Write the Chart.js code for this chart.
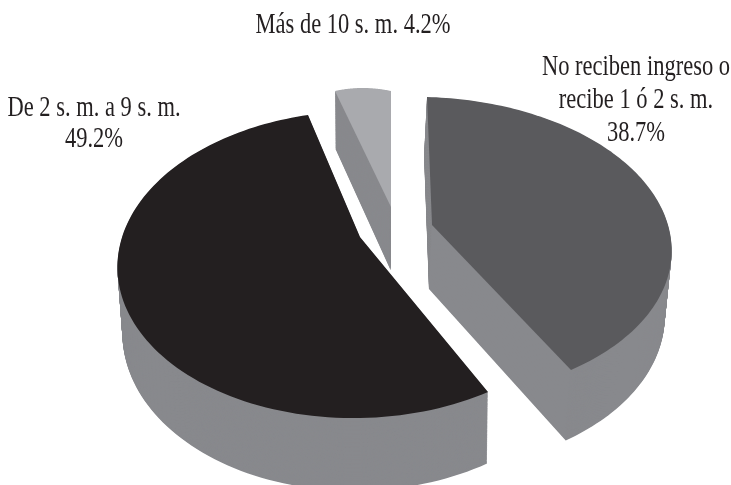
<!DOCTYPE html>
<html lang="es">
<head>
<meta charset="utf-8">
<title>Ingreso en salarios mínimos</title>
<style>
  html, body { margin: 0; padding: 0; background: #fff; }
  canvas { display: block; }
</style>
<script src="https://cdn.jsdelivr.net/npm/chart.js@4/dist/chart.umd.min.js"></script>
</head>
<body>
<canvas id="pie" width="731" height="485"></canvas>
<script>
// Income shares, clockwise from twelve o'clock
const categories = ['No reciben ingreso o recibe 1 ó 2 s. m.', 'De 2 s. m. a 9 s. m.', 'Más de 10 s. m.'];
const shares = [38.7, 49.2, 4.2];
const topColors = ['#5a5a5d', '#231f20', '#a9aaae'];
const wallColors = ['#88898d', '#88898d', '#88898d'];

// Wrapped label lines per slice; the percentage is appended from the data
const labelLines = [
  ['No reciben ingreso o', 'recibe 1 ó 2 s. m.'],
  ['De 2 s. m. a 9 s. m.'],
  ['Más de 10 s. m.']
];

// Perspective of each exploded slice on the page: apex, then rim at first, middle and last angle
const sliceViews = [
  { apex: [432, 225], rim: [[427, 97], [652, 192], [571, 370]], wallShift: -3 },
  { apex: [360, 237], rim: [[488, 392], [122, 297], [308, 115]], wallShift: 0 },
  { apex: [391, 207], rim: [[335, 91], [363, 88], [391, 91]], wallShift: -1 }
];
const paintOrder = [2, 0, 1];

// Label placement: centre x, first baseline, line step
const labelSpots = [
  { x: 636, y: 75, step: 33 },
  { x: 94, y: 116, step: 31 },
  { x: 353, y: 33, step: 0, inline: true }
];
const labelFont = '30px "Liberation Serif"';
const labelSqueeze = 0.75;

// Solves the plane projection that takes the unit disc onto a slice's page position
function discProjection(view, angles) {
  const [ax, ay] = view.apex;
  const rows = [];
  const rhs = [];
  angles.forEach((ang, i) => {
    const X = Math.cos(ang), Y = Math.sin(ang);
    const [x, y] = view.rim[i];
    rows.push([X, Y, 0, 0, -x * X, -x * Y]); rhs.push(x - ax);
    rows.push([0, 0, X, Y, -y * X, -y * Y]); rhs.push(y - ay);
  });
  const n = 6;
  for (let c = 0; c < n; c++) {
    let p = c;
    for (let r = c + 1; r < n; r++) if (Math.abs(rows[r][c]) > Math.abs(rows[p][c])) p = r;
    [rows[c], rows[p]] = [rows[p], rows[c]];
    [rhs[c], rhs[p]] = [rhs[p], rhs[c]];
    for (let r = 0; r < n; r++) {
      if (r === c) continue;
      const f = rows[r][c] / rows[c][c];
      for (let k = c; k < n; k++) rows[r][k] -= f * rows[c][k];
      rhs[r] -= f * rhs[c];
    }
  }
  const [a, b, d, e, g, h] = rhs.map((v, i) => v / rows[i][i]);
  return (X, Y) => {
    const w = g * X + h * Y + 1;
    return [(a * X + b * Y + ax) / w, (d * X + e * Y + ay) / w];
  };
}

// Lower face of the disc as seen from above: a little narrower and further down the page
function lowerFace(p, shift, t) {
  const x = 429 + 0.984 * (p[0] - 429) + shift;
  const y = p[1] + 58 + (p[1] - 91) * 0.045;
  return [p[0] + (x - p[0]) * t, p[1] + (y - p[1]) * t];
}

function fillPolygon(ctx, pts) {
  ctx.beginPath();
  pts.forEach((p, i) => (i ? ctx.lineTo(p[0], p[1]) : ctx.moveTo(p[0], p[1])));
  ctx.closePath();
  ctx.fill();
}

const tiltedPie = {
  id: 'tiltedPie',
  // The arcs are redrawn below in perspective with an extruded wall
  beforeDatasetDraw() { return false; },
  afterDatasetsDraw(chart) {
    const { ctx } = chart;
    const arcs = chart.getDatasetMeta(0).data;
    ctx.save();
    paintOrder.forEach(i => {
      const el = arcs[i];
      const view = sliceViews[i];
      const start = el.startAngle, end = el.endAngle;
      const project = discProjection(view, [start, (start + end) / 2, end]);
      const outline = [project(0, 0)];
      const steps = 120;
      for (let s = 0; s <= steps; s++) {
        const ang = start + (end - start) * s / steps;
        outline.push(project(Math.cos(ang), Math.sin(ang)));
      }
      ctx.fillStyle = wallColors[i];
      for (let t = 90; t >= 1; t--) {
        fillPolygon(ctx, outline.map(p => lowerFace(p, view.wallShift, t / 90)));
      }
      ctx.fillStyle = el.options.backgroundColor;
      fillPolygon(ctx, outline);
    });
    ctx.restore();

    ctx.save();
    ctx.font = labelFont;
    ctx.fillStyle = '#231f20';
    ctx.textAlign = 'center';
    ctx.textBaseline = 'alphabetic';
    labelSpots.forEach((spot, i) => {
      const pct = shares[i].toFixed(1) + '%';
      const lines = spot.inline
        ? [labelLines[i].join(' ') + ' ' + pct]
        : [...labelLines[i], pct];
      lines.forEach((line, k) => {
        ctx.save();
        ctx.translate(spot.x, spot.y + k * spot.step);
        ctx.scale(labelSqueeze, 1);
        ctx.fillText(line, 0, 0);
        ctx.restore();
      });
    });
    ctx.restore();
  }
};

new Chart(document.getElementById('pie'), {
  type: 'pie',
  data: {
    labels: categories,
    datasets: [{ data: shares, backgroundColor: topColors, borderWidth: 0 }]
  },
  options: {
    responsive: false,
    animation: false,
    plugins: { legend: { display: false }, tooltip: { enabled: false } }
  },
  plugins: [tiltedPie]
});
</script>
</body>
</html>
